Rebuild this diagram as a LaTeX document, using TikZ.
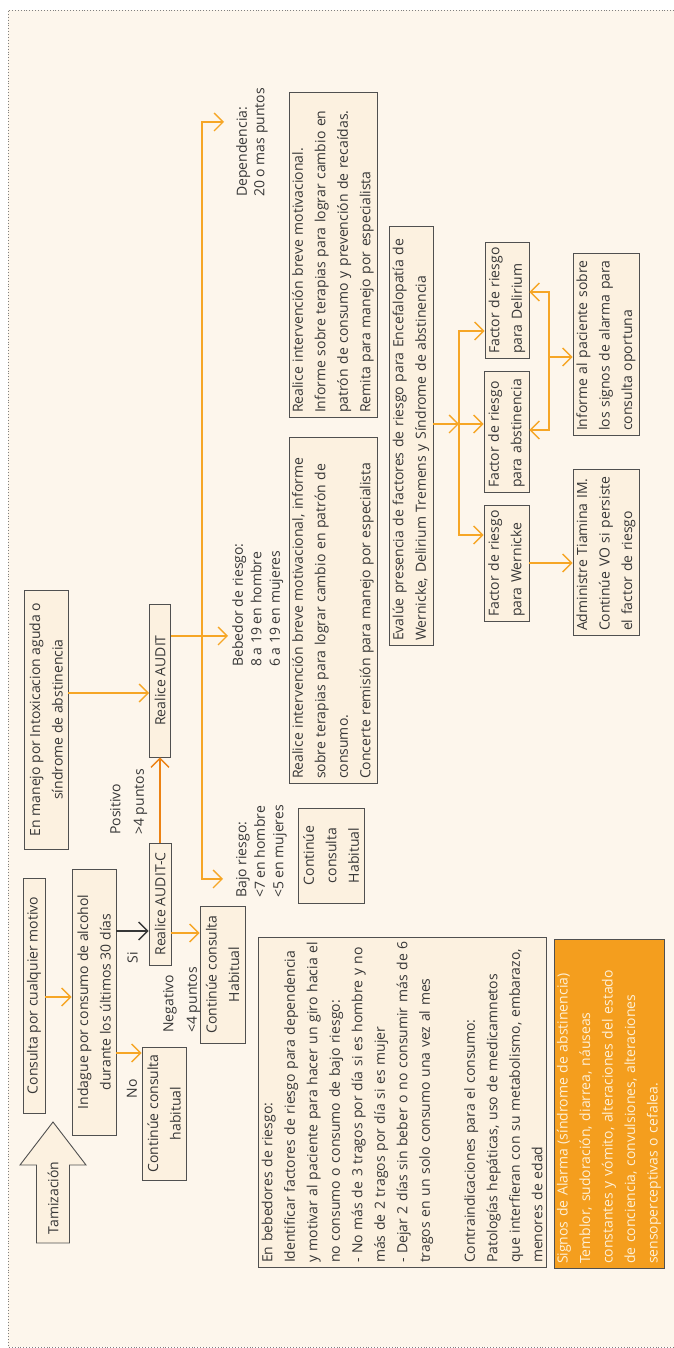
\documentclass[tikz,border=0pt]{standalone}
\usepackage{fontspec}
\setmainfont{Open Sans}
\usetikzlibrary{arrows.meta}
\definecolor{bgc}{RGB}{253,246,236}
\definecolor{boxc}{RGB}{252,241,224}
\definecolor{linec}{RGB}{80,80,80}
\definecolor{orng}{RGB}{246,166,38}
\definecolor{dorng}{RGB}{236,130,20}
\definecolor{alarmc}{RGB}{244,158,30}
\definecolor{txt}{RGB}{55,55,55}
\definecolor{alarmtxt}{RGB}{254,240,214}
\begin{document}
\begin{tikzpicture}[x=1pt,y=1pt,
  every node/.style={rotate=90, text=txt, font=\fontsize{14}{22.5}\selectfont},
  box/.style={draw=linec, fill=boxc, line width=0.9pt, inner xsep=4pt, inner ysep=1pt, align=center},
  lbox/.style={box, align=left, text width=#1},
  lab/.style={inner sep=0pt, align=left, anchor=north west},
  arr/.style={draw=orng, line width=1.3pt, -{Straight Barb[length=9pt,width=18pt]}},
  darr/.style={arr, draw=dorng},
  karr/.style={arr, draw=txt}
]
\useasboundingbox (0,0) rectangle (674,1348);
\fill[bgc] (8,1) rectangle (674,1338);
\draw[gray, dotted, line width=0.9pt] (674,1338) -- (8,1338) -- (8,1) -- (674,1);

% Tamizacion arrow
\draw[draw=linec, fill=boxc, line width=0.9pt] (36.5,105) -- (36.5,183) -- (20,183) -- (53,226) -- (86,183) -- (69.5,183) -- (69.5,105) -- cycle;
\node (tam) at (53,150) {Tamización};

% boxes
\node[box, minimum width=235pt, minimum height=22pt] (consulta) at (34,352.5) {Consulta por cualquier motivo};
\node[box, minimum width=259pt, minimum height=44pt] (manejo) at (46,628.5) {En manejo por Intoxicacion aguda o\\síndrome de abstinencia};
\node[box, minimum width=266pt, minimum height=44pt] (indague) at (94,346) {Indague por consumo de alcohol\\durante los últimos 30 días};
\node[box, minimum width=133pt, minimum height=44pt] (cont1) at (164,234.5) {Continúe consulta\\habitual};
\node[box, minimum width=122pt, minimum height=22pt] (auditc) at (160,444) {Realice AUDIT-C};
\node[box, minimum width=153pt, minimum height=21pt] (audit) at (160,667.5) {Realice AUDIT};
\node[box, minimum width=137pt, minimum height=45pt] (cont2) at (222.5,373.5) {Continúe consulta\\Habitual};
\node[box, minimum width=95pt, minimum height=66pt] (cont3) at (331,492.5) {Continúe\\consulta\\Habitual};
\node[lbox=338pt, minimum height=88pt] (real1) at (333,738) {Realice intervención breve motivacional, informe\\sobre terapias para lograr cambio en patrón de\\consumo.\\Concerte remisión para manejo por especialista};
\node[lbox=317pt, minimum height=88pt] (real2) at (333,1093.5) {Realice intervención breve motivacional.\\Informe sobre terapias para lograr cambio en\\patrón de consumo y prevención de recaídas.\\Remita para manejo por especialista};
\node[lbox=411pt, minimum height=44pt] (evalue) at (411,912.5) {Evalúe presencia de factores de riesgo para Encefalopatía de\\Wernicke, Delirium Tremens y Síndrome de abstinencia};
\node[lbox=108pt, minimum height=44pt] (fdel) at (507,1048) {Factor de riesgo\\para Delirium};
\node[lbox=113pt, minimum height=45pt] (fabs) at (506.5,916.5) {Factor de riesgo\\para abstinencia};
\node[lbox=108pt, minimum height=45pt] (fwer) at (506.5,785) {Factor de riesgo\\para Wernicke};
\node[lbox=158pt, minimum height=66pt] (admin) at (606,796) {Administre Tiamina IM.\\Continúe VO si persiste\\el factor de riesgo};
\node[lbox=174pt, minimum height=66pt] (informe) at (606,1004) {Informe al paciente sobre\\los signos de alarma para\\consulta oportuna};
\node[lbox=322pt, minimum height=288pt] (bigtext) at (402,246) {En bebedores de riesgo:\\
Identificar factores de riesgo para dependencia\\
y motivar al paciente para hacer un giro hacia el\\
no consumo o consumo de bajo riesgo:\\
- No más de 3 tragos por día si es hombre y no\\
más de 2 tragos por día si es mujer\\
- Dejar 2 días sin beber o no consumir más de 6\\
tragos en un solo consumo una vez al mes\\[22.5pt]
Contraindicaciones para el consumo:\\
Patologías hepáticas, uso de medicamnetos\\
que interfieran con su metabolismo, embarazo,\\
menores de edad};
\node[lbox=321pt, minimum height=110pt, fill=alarmc, text=alarmtxt] (alarm) at (609,244.5) {Signos de Alarma (síndrome de abstinencia)\\Temblor, sudoración, diarrea, náuseas\\constantes y vómito, alteraciones del estado\\de conciencia, convulsiones, alteraciones\\sensoperceptivas o cefalea.};

% labels
\node[lab, font=\fontsize{14}{17.5}\selectfont] (dep) at (236,1151) {Dependencia:\\20 o mas puntos};
\node[lab, font=\fontsize{14}{18.5}\selectfont] (bebedor) at (232,681) {Bebedor de riesgo:\\8 a 19 en hombre\\6 a 19 en mujeres};
\node[lab, font=\fontsize{14}{18.5}\selectfont] (bajo) at (236,450) {Bajo riesgo:\\<7 en hombre\\<5 en mujeres};
\node[lab, font=\fontsize{14}{23.5}\selectfont] (positivo) at (110,513) {Positivo\\>4 puntos};
\node[lab, font=\fontsize{14}{23.5}\selectfont] (negativo) at (163,315) {Negativo\\<4 puntos};
\node (si) at (132.5,390.5) {Si};
\node (no) at (132,259) {No};

% connectors
\coordinate (trunk) at (202,712);
\coordinate (br) at (459,924);
\coordinate (ic) at (549,991);
\draw[arr] (consulta.south |- 0,351) -- (indague.north |- 0,351);
\draw[arr] (indague.south |- 0,295) -- (cont1.north |- 0,295);
\draw[karr] (indague.south |- 0,417) -- (auditc.north |- 0,417);
\draw[arr] (auditc.south |- 0,415) -- (cont2.north |- 0,415);
\draw[darr] (auditc.east) -- (audit.west);
\draw[arr] (manejo.south |- 0,655) -- (audit.north |- 0,655);
\draw[arr, shorten >=4pt] (audit.south |- trunk) -- (bebedor.north |- trunk);
\draw[arr, shorten >=12pt] (trunk) |- (dep.north |- 0,1226);
\draw[arr, shorten >=13pt] (trunk) |- (bajo.north |- 0,469);
\draw[arr] (evalue.south |- br) -- (br);
\draw[arr] (br) -- (fabs.north |- br);
\draw[arr] (br) |- (fdel.north |- 0,1017);
\draw[arr] (br) |- (fwer.north |- 0,813);
\draw[arr] (fwer.south |- 0,785) -- (admin.north |- 0,785);
\draw[arr] (ic) |- (fdel.south |- 0,1056);
\draw[arr] (ic) |- (fabs.south |- 0,918);
\draw[arr] (ic) -- (informe.north |- ic);
\end{tikzpicture}
\end{document}
